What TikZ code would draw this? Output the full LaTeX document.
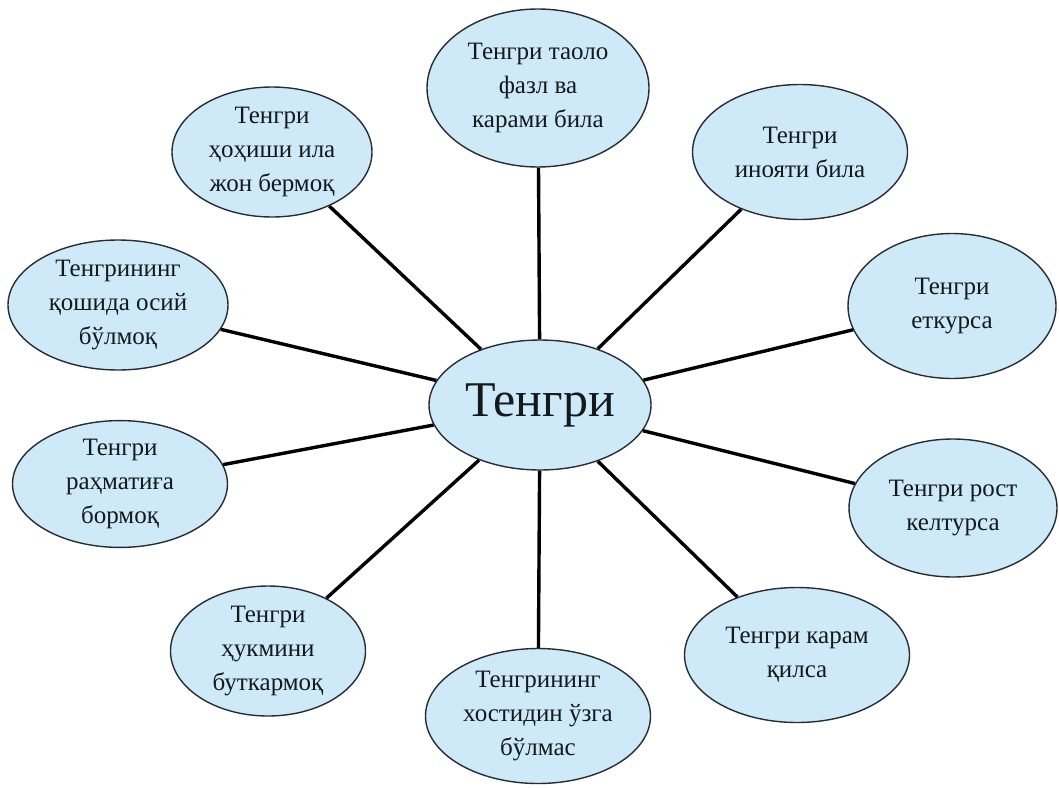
\documentclass[tikz,border=0pt]{standalone}
\usepackage{fontspec}
\setmainfont{Liberation Serif}
\usetikzlibrary{shapes.geometric}
\definecolor{bubble}{RGB}{206,233,247}
\definecolor{rim}{RGB}{40,45,50}
\definecolor{ink}{RGB}{20,25,30}
\tikzset{
  bub/.style={ellipse, draw=rim, line width=1.4pt, fill=bubble, inner sep=0pt,
    align=center, text=ink, font=\fontsize{25}{34}\selectfont},
  link/.style={line width=3.4pt, black}
}
\begin{document}
\begin{tikzpicture}[x=1pt,y=-1pt]
\useasboundingbox (0,0) rectangle (1059,787);
\node[bub, minimum width=222pt, minimum height=130pt, font=\fontsize{50}{54}\selectfont] (c) at (540,405) {Тенгри};
\node[bub, minimum width=222pt, minimum height=158pt] (n1) at (538,88) {Тенгри таоло\\фазл ва\\карами била};
\node[bub, minimum width=215pt, minimum height=135pt] (n2) at (800,152) {Тенгри\\инояти била};
\node[bub, minimum width=208pt, minimum height=145pt] (n3) at (952,306) {Тенгри\\еткурса};
\node[bub, minimum width=208pt, minimum height=138pt] (n4) at (953,508) {Тенгри рост\\келтурса};
\node[bub, minimum width=225pt, minimum height=135pt] (n5) at (797,655) {Тенгри карам\\қилса};
\node[bub, minimum width=225pt, minimum height=135pt] (n6) at (538,716) {Тенгрининг\\хостидин ўзга\\бўлмас};
\node[bub, minimum width=195pt, minimum height=130pt] (n7) at (268,651) {Тенгри\\ҳукмини\\буткармоқ};
\node[bub, minimum width=215pt, minimum height=125pt] (n8) at (120,484) {Тенгри\\раҳматиға\\бормоқ};
\node[bub, minimum width=220pt, minimum height=130pt] (n9) at (118,305) {Тенгрининг\\қошида осий\\бўлмоқ};
\node[bub, minimum width=200pt, minimum height=130pt] (n10) at (272,152) {Тенгри\\ҳоҳиши ила\\жон бермоқ};
\foreach \n in {n1,n2,n3,n4,n5,n6,n7,n8,n9,n10} \draw[link] (c) -- (\n);
\end{tikzpicture}
\end{document}
